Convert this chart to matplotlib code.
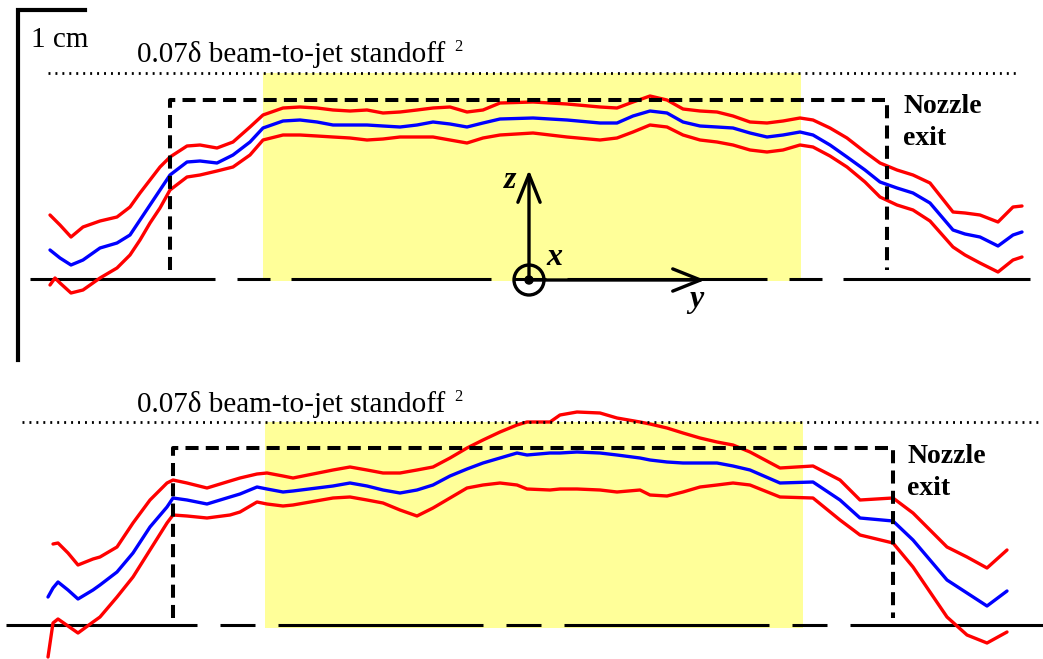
import numpy as np
import matplotlib
matplotlib.use("Agg")
import matplotlib.pyplot as plt
from matplotlib.patches import Rectangle, Circle

plt.rcParams['lines.scale_dashes'] = False
plt.rcParams['font.family'] = ['Liberation Serif', 'DejaVu Serif']

# Surface profiles, in image pixels (y grows downward)
top_x = [50, 55, 60, 71, 83, 100, 117, 130, 140, 150, 160, 170, 187, 200, 217, 233, 250, 263, 283, 300,
         317, 333, 350, 367, 383, 400, 417, 433, 450, 467, 483, 500, 533, 567, 600, 617, 633, 650, 667, 683,
         700, 717, 733, 750, 767, 783, 800, 813, 830, 847, 865, 880, 897, 913, 930, 953, 965, 980, 998, 1013, 1022]
top_mean = [250, 254, 258, 265, 260, 248, 243, 235, 220, 205, 190, 175, 162, 161, 163, 155, 142, 128, 121, 120,
            122, 125, 125, 125, 126, 127, 125, 122, 124, 127, 123, 119, 118, 120, 123, 123, 116, 111, 113, 122,
            126, 127, 128, 133, 137, 135, 132, 135, 145, 157, 170, 182, 188, 193, 203, 230, 234, 237, 246, 235, 232]
top_upper = [215, 220, 225, 237, 227, 221, 217, 207, 193, 180, 167, 157, 146, 145, 148, 142, 127, 115, 108, 107,
             108, 110, 111, 110, 113, 112, 110, 108, 107, 112, 110, 103, 102, 104, 107, 108, 102, 96, 100, 109,
             111, 112, 116, 122, 123, 121, 118, 120, 128, 138, 152, 163, 170, 175, 183, 212, 213, 215, 222, 207, 206]
top_lower = [285, 278, 283, 293, 290, 278, 268, 255, 240, 223, 208, 190, 177, 175, 171, 167, 155, 140, 135, 135,
             136, 137, 138, 140, 139, 137, 137, 137, 140, 143, 138, 135, 133, 137, 140, 138, 132, 125, 127, 135,
             140, 142, 145, 150, 152, 150, 145, 147, 156, 167, 182, 197, 205, 210, 221, 247, 255, 263, 272, 260, 257]

bot_x = [48, 53, 58, 68, 78, 93, 100, 117, 133, 150, 167, 173, 187, 207, 230, 240, 257, 267, 283, 293,
         333, 350, 367, 383, 400, 417, 433, 450, 467, 483, 500, 517, 527, 550, 560, 577, 600, 617, 640, 650,
         667, 683, 700, 717, 733, 750, 780, 813, 840, 860, 893, 913, 930, 947, 967, 987, 1007]
bot_mean = [597, 588, 582, 590, 599, 590, 585, 572, 553, 527, 507, 498, 500, 504, 497, 494, 487, 489, 492, 491,
            486, 483, 486, 490, 493, 490, 485, 476, 469, 463, 458, 453, 455, 453, 453, 452, 453, 455, 458, 460,
            462, 463, 463, 463, 466, 470, 483, 482, 500, 518, 521, 540, 560, 580, 593, 606, 591]
bot_upper = [np.nan, 544, 543, 553, 565, 559, 557, 547, 523, 500, 483, 480, 483, 488, 481, 478, 474, 473, 476, 478,
             470, 467, 470, 473, 473, 470, 467, 458, 448, 440, 432, 425, 422, 422, 415, 412, 413, 418, 422, 424,
             428, 433, 438, 442, 445, 452, 468, 466, 480, 500, 498, 513, 530, 547, 557, 568, 550]
bot_lower = [657, 623, 619, 626, 633, 622, 617, 597, 577, 550, 523, 515, 516, 518, 515, 512, 502, 504, 506, 505,
             498, 497, 500, 503, 510, 516, 508, 498, 488, 485, 483, 485, 489, 490, 489, 489, 490, 492, 490, 495,
             496, 492, 487, 485, 483, 485, 497, 498, 520, 535, 543, 567, 592, 617, 635, 643, 632]

label_standoff = "0.07\u03b4 beam-to-jet standoff"

W, H = 1043, 659
fig = plt.figure(figsize=(W / 100, H / 100), dpi=100)
ax = fig.add_axes([0, 0, 1, 1])
ax.set_xlim(0, W)
ax.set_ylim(H, 0)
ax.axis('off')

yellow = '#ffff99'
px = 0.72  # points per pixel at dpi 100


def panel(x, mean, upper, lower, dot_y, dot_x0, dot_x1, shade, noz, ground_y, g_x0, g_x1,
          g_off, g_dash, text_y, noz_x):
    sx0, sx1, sy1 = shade
    ax.add_patch(Rectangle((sx0, dot_y), sx1 - sx0, sy1 - dot_y, color=yellow, lw=0, zorder=1))
    ax.plot([g_x0, g_x1], [ground_y, ground_y], color='k', lw=2.2,
            linestyle=(g_off * px, tuple(d * px for d in g_dash)), zorder=2)
    for y, c in ((upper, '#ff0000'), (lower, '#ff0000'), (mean, '#0000ff')):
        ax.plot(x, y, color=c, lw=2.4, solid_joinstyle='round', solid_capstyle='round', zorder=3)
    nl, nr, nt, nb = noz
    ax.plot([nl, nl, nr, nr], [nb, nt, nt, nb], color='k', lw=2.9,
            linestyle=(0, (9.4, 5.2)), zorder=4)
    ax.plot([dot_x0, dot_x1], [dot_y, dot_y], color='k', lw=2.0,
            linestyle=(0, (1.4, 3.6)), zorder=4)
    ax.text(137, text_y, label_standoff, fontsize=21, va='baseline', ha='left')
    ax.text(454, text_y - 11, "2", fontsize=12, va='baseline', ha='left')
    ax.text(noz_x, text_y + 51, "Nozzle", fontsize=20, fontweight='bold', va='baseline')
    ax.text(noz_x, text_y + 83, "exit", fontsize=20, fontweight='bold', va='baseline')


panel(top_x, top_mean, top_upper, top_lower, 73, 48, 1017, (263, 801, 281),
      (170, 887, 100, 270), 279, 30, 1030, 15, (200, 22, 33, 21), 62, 903)
panel(bot_x, bot_mean, bot_upper, bot_lower, 422, 22, 1043, (265, 803, 628),
      (173, 893, 448, 618), 625, 6, 1043, 14, (205, 23, 35, 23), 412, 907)

# scale bar
ax.plot([85, 18, 18], [10, 10, 360], color='k', lw=3, solid_capstyle='projecting',
        solid_joinstyle='miter', zorder=5)
ax.text(31, 47, "1 cm", fontsize=21, va='baseline', ha='left')

# coordinate system
cx, cy = 529, 280
arrow = dict(arrowstyle='->,head_length=1.0,head_width=0.4', lw=2.4, color='k',
             shrinkA=0, shrinkB=0, mutation_scale=20)
ax.annotate('', xy=(cx, 170), xytext=(cx, cy), arrowprops=arrow, zorder=6)
ax.annotate('', xy=(705, cy), xytext=(cx, cy), arrowprops=arrow, zorder=6)
ax.add_patch(Circle((cx, cy), 15, fill=False, lw=2.4, ec='k', zorder=6))
ax.add_patch(Circle((cx, cy), 4, color='k', zorder=6))
ax.text(504, 188, "z", fontsize=23, style='italic', fontweight='bold', va='baseline')
ax.text(546, 265, "x", fontsize=23, style='italic', fontweight='bold', va='baseline')
ax.text(689, 307, "y", fontsize=23, style='italic', fontweight='bold', va='baseline')

fig.savefig("out.png", dpi=100)
